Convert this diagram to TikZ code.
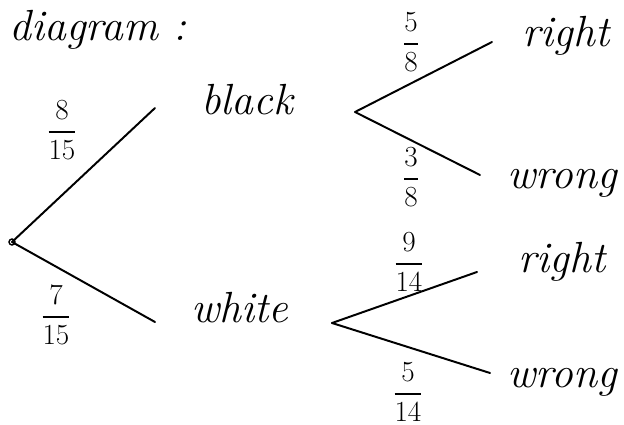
\documentclass[tikz,border=0pt]{standalone}
\usepackage{amsmath}
\usepackage{tikz}
\usetikzlibrary{positioning}

\tikzset{
  word/.style={font=\itshape\fontsize{31}{36}\selectfont, inner sep=0pt},
  prob/.style={font=\fontsize{22}{26}\selectfont, inner sep=0pt},
  branch/.style={line width=1.4pt, line cap=round}
}

\begin{document}
\begin{tikzpicture}[x=0.025cm, y=-0.025cm]
  \useasboundingbox (0,0) rectangle (624,425);

  \node[word] (title) at (98,30) {diagram :};

  % first stage
  \coordinate (root) at (12,242);
  \node[word] (black) at (247,100) {black};
  \node[word] (white) at (240,308) {white};
  \coordinate (black-in) at (155,108);
  \coordinate (black-out) at (355,112);
  \coordinate (white-in) at (155,322);
  \coordinate (white-out) at (332,323);

  % second stage
  \node[word] (bright) at (566,36) {right};
  \node[word] (bwrong) at (562,183) {wrong};
  \node[word] (wright) at (562,262) {right};
  \node[word] (wwrong) at (562,382) {wrong};
  \coordinate (bright-in) at (492,42);
  \coordinate (bwrong-in) at (480,175);
  \coordinate (wright-in) at (477,272);
  \coordinate (wwrong-in) at (490,373);

  \draw[line width=1pt] (root) circle (3);
  \draw[branch] (root) -- (black-in);
  \draw[branch] (root) -- (white-in);
  \draw[branch] (black-out) -- (bright-in);
  \draw[branch] (black-out) -- (bwrong-in);
  \draw[branch] (white-out) -- (wright-in);
  \draw[branch] (white-out) -- (wwrong-in);

  % probabilities
  \node[prob] (p1) at (62,130) {$\dfrac{8}{15}$};
  \node[prob] (p2) at (56,315) {$\dfrac{7}{15}$};
  \node[prob] (p3) at (411,42) {$\dfrac{5}{8}$};
  \node[prob] (p4) at (411,177) {$\dfrac{3}{8}$};
  \node[prob] (p5) at (409,262) {$\dfrac{9}{14}$};
  \node[prob] (p6) at (408,392) {$\dfrac{5}{14}$};
\end{tikzpicture}
\end{document}
